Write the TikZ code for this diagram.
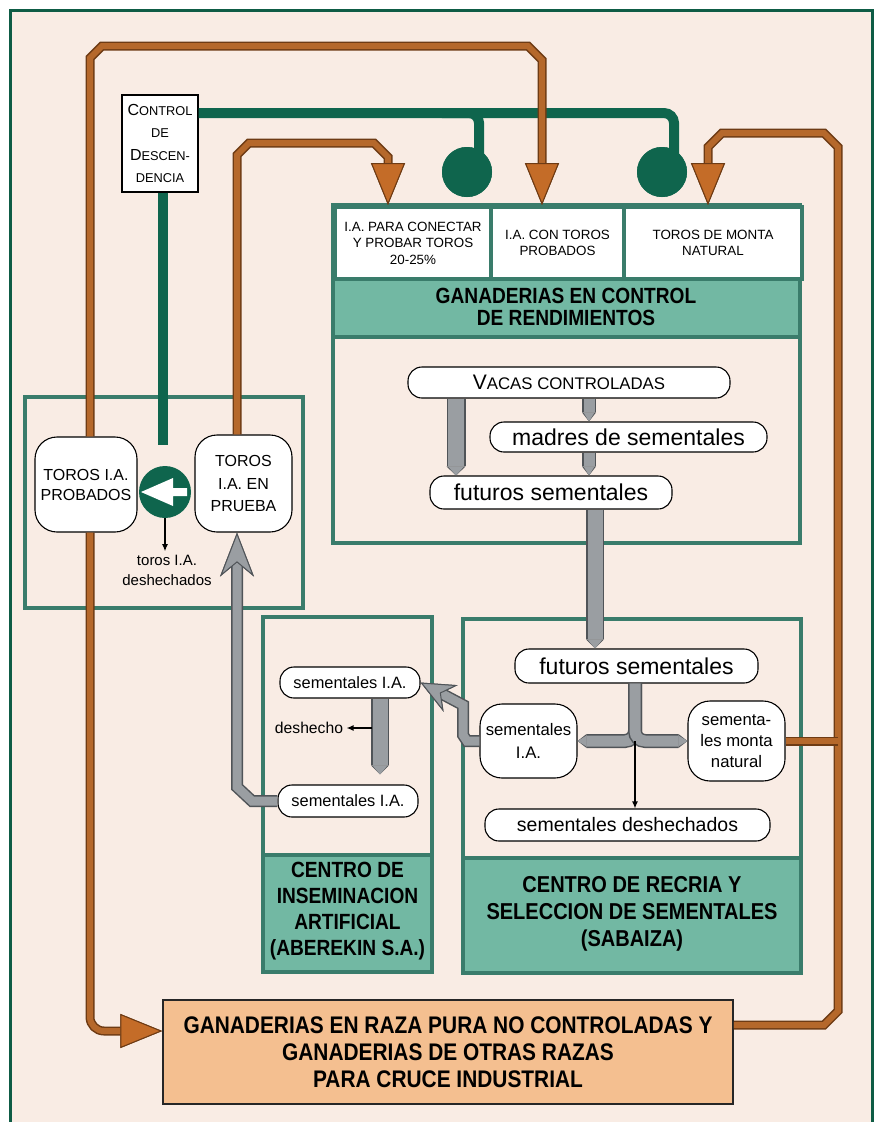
\documentclass[tikz,border=0pt]{standalone}
\usepackage{fontspec}
\setmainfont{Liberation Sans}
\newfontfamily\condsans[FakeStretch=0.87]{Liberation Sans}
\usetikzlibrary{arrows.meta}

\definecolor{bgpeach}{HTML}{F9ECE4}
\definecolor{bordergreen}{HTML}{0E5C45}
\definecolor{pipegreen}{HTML}{0F654D}
\definecolor{framegreen}{HTML}{3A7C6B}
\definecolor{bandteal}{HTML}{72B8A3}
\definecolor{brownd}{HTML}{6E3B14}
\definecolor{brownl}{HTML}{B5682B}
\definecolor{arrowbrown}{HTML}{C46C28}
\definecolor{greyd}{HTML}{505458}
\definecolor{greyl}{HTML}{9A9EA2}
\definecolor{razafill}{HTML}{F4BF90}

\newcommand{\smc}[1]{\scalebox{0.8}{#1}}

\begin{document}
\begin{tikzpicture}[x=1pt,y=-1pt,
    frame/.style={draw=framegreen,line width=4pt},
    band/.style={frame,fill=bandteal},
    cell/.style={frame,fill=white,anchor=north west,inner sep=0pt,align=center,
      font=\fontsize{13.4}{16.5}\selectfont},
    pill/.style={draw=black,line width=1.1pt,fill=white,rounded corners=14pt,inner sep=0pt},
    bull/.style={draw=black,line width=1.1pt,fill=white,rounded corners=22pt,inner sep=0pt,align=center},
    pipe/.style={draw=pipegreen,line width=10pt},
    valve/.style={circle,fill=pipegreen,inner sep=0pt},
    browntube/.style={draw=brownl,line width=6pt,preaction={draw=brownd,line width=9pt}},
    brownhead/.style={-{Triangle[width=34pt,length=42pt,line width=1pt,fill=arrowbrown,color=brownd]}},
    greytube/.style={draw=greyl,line width=#1,preaction={draw=greyd,line width=#1+3pt}},
    chisel/.style={-{Triangle[width=0pt 1,length=9pt,line width=0pt]}},
    greyhead/.style={-{Stealth[width=34pt,length=44pt,inset=14pt,line width=1pt,fill=greyl,color=greyd]}},
    greyheadsmall/.style={-{Stealth[width=30pt,length=34pt,inset=11pt,line width=1pt,fill=greyl,color=greyd]}},
    thinarrow/.style={draw=black,line width=1.2pt,-{Latex[length=7pt,width=6pt]}},
    boldhead/.style 2 args={align=center,font=\condsans\bfseries\fontsize{#1}{#2}\selectfont},
  ]
  % paper and border
  \fill[white] (0,0) rectangle (880,1122);
  \useasboundingbox (0,0) rectangle (880,1122);
  \draw[draw=bordergreen,line width=3pt,fill=bgpeach] (10,10) rectangle (872,1135);

  % frames
  \draw[frame] (25,397) rectangle (303,608);
  \draw[frame,fill=bgpeach] (333,205) rectangle (800,543);
  \draw[band] (333,277) rectangle (800,337);
  \draw[frame] (263,617) rectangle (432,972);
  \draw[band] (263,855) rectangle (432,972);
  \draw[frame] (463,619) rectangle (801,973);
  \draw[band] (463,858) rectangle (801,973);

  % columns and rows for the connectors
  \coordinate (pipeY) at (0,113);
  \coordinate (rowR) at (0,1025);
  \coordinate (rowL) at (0,1031);
  \coordinate (colL) at (90,0);
  \coordinate (colG) at (163,0);
  \coordinate (colP) at (237,0);
  \coordinate (colB) at (388,0);
  \coordinate (colA) at (542,0);
  \coordinate (colC) at (708,0);
  \coordinate (colR) at (838,0);
  \coordinate (colV) at (456,0);
  \coordinate (colM) at (589,0);
  \coordinate (colF) at (595,0);
  \coordinate (colT) at (635,0);
  \coordinate (colD) at (380,0);

  % ganaderias en control
  \node[cell,minimum width=156pt,minimum height=72pt] (cellA) at (333,205) {I.A. PARA CONECTAR\\Y PROBAR TOROS\\20-25\%};
  \node[cell,minimum width=133pt,minimum height=72pt] (cellB) at (489,205) {I.A. CON TOROS\\PROBADOS};
  \node[cell,minimum width=178pt,minimum height=72pt] (cellC) at (622,205) {TOROS DE MONTA\\NATURAL};
  \node[boldhead={22}{22}] (hdrG) at (566,307) {GANADERIAS EN CONTROL\\DE RENDIMIENTOS};
  \node[pill,minimum width=322pt,minimum height=31pt,font=\fontsize{21}{21}\selectfont] (vacas) at (569,382.5) {V\smc{ACAS CONTROLADAS}};
  \node[pill,minimum width=277pt,minimum height=30pt,font=\fontsize{23}{23}\selectfont] (madres) at (628.5,437) {madres de sementales};
  \node[pill,minimum width=242pt,minimum height=33pt,font=\fontsize{23}{23}\selectfont] (futA) at (551,492.5) {futuros sementales};

  % centro de recria
  \node[pill,minimum width=243pt,minimum height=34pt,font=\fontsize{23}{23}\selectfont] (futB) at (636.5,666) {futuros sementales};
  \node[bull,minimum width=97pt,minimum height=74pt,font=\fontsize{16.7}{23}\selectfont] (semR) at (528.5,741) {sementales\\I.A.};
  \node[bull,minimum width=97pt,minimum height=80pt,font=\fontsize{16.7}{21}\selectfont] (monta) at (736.5,741) {sementa-\\les monta\\natural};
  \node[pill,minimum width=285pt,minimum height=32pt,font=\fontsize{19.5}{19.5}\selectfont] (desh) at (627.5,825) {sementales deshechados};
  \node[boldhead={23}{27}] (recriaT) at (632,914) {CENTRO DE RECRIA Y\\SELECCION DE SEMENTALES\\(SABAIZA)};

  % centro de inseminacion
  \node[pill,minimum width=140pt,minimum height=31pt,font=\fontsize{16.4}{16.4}\selectfont] (semA) at (350,682.5) {sementales I.A.};
  \node[pill,minimum width=140pt,minimum height=32pt,font=\fontsize{16.4}{16.4}\selectfont] (semB) at (348,801) {sementales I.A.};
  \node[font=\fontsize{15.7}{16}\selectfont] (dh) at (309,728) {deshecho};
  \node[boldhead={22}{26}] (insemT) at (347.5,911) {CENTRO DE\\INSEMINACION\\ARTIFICIAL\\(ABEREKIN S.A.)};

  % toros
  \node[bull,minimum width=102pt,minimum height=95pt,font=\fontsize{16}{20}\selectfont] (prob) at (86,484.5) {TOROS I.A.\\PROBADOS};
  \node[bull,minimum width=97pt,minimum height=97pt,font=\fontsize{16}{22.5}\selectfont] (prueba) at (243.5,483.5) {TOROS\\I.A. EN\\PRUEBA};
  \node[font=\fontsize{15}{20}\selectfont,align=center] (tdesh) at (167,570) {toros I.A.\\deshechados};
  \node[draw=black,line width=1.2pt,fill=white,minimum width=76pt,minimum height=97pt,inner sep=0pt,
    align=center,font=\fontsize{16}{22.5}\selectfont] (ctrl) at (160,143.5) {C\smc{ONTROL}\\\smc{DE}\\D\smc{ESCEN-}\\\smc{DENCIA}};

  % raza pura
  \node[draw=black!85,line width=1.5pt,fill=razafill,minimum width=570pt,minimum height=104pt,
    boldhead={24}{27}] (raza) at (448,1052) {GANADERIAS EN RAZA PURA NO CONTROLADAS Y\\GANADERIAS DE OTRAS RAZAS\\PARA CRUCE INDUSTRIAL};

  % green pipes
  \node[valve,minimum size=50pt] (valveA) at (467,172) {};
  \node[valve,minimum size=50pt] (valveB) at (662,172) {};
  \draw[pipe,rounded corners=10pt] (ctrl.east |- pipeY) -| ([xshift=12pt]valveB.center);
  \draw[pipe,rounded corners=10pt] (valveA.west |- pipeY) -| ([xshift=12pt]valveA.center);
  \node[valve,minimum size=50pt] at (valveA) {};
  \node[valve,minimum size=50pt] at (valveB) {};
  \node[valve,minimum size=52pt] (sw) at (165,492) {};
  \draw[pipe,shorten >=21pt] (ctrl.south -| colG) -- (sw.north -| colG);
  \fill[white] (sw.center) ++(-24,0) -- ++(32,-14) -- ++(0,10) -- ++(14,0) -- ++(0,8) -- ++(-14,0) -- ++(0,10) -- cycle;
  \draw[thinarrow] (sw.south) -- (sw.south |- tdesh.north);

  % brown loops
  \draw[browntube,brownhead] (prob.north -| colL) -- (90,58) -- (102,46) -- (528,46) -- (542,60) -- (cellB.north -| colA);
  \draw[browntube,brownhead] (prueba.north -| colP) -- (237,155) -- (249,143) -- (374,143) -- (388,157) -- (cellA.north -| colB);
  \draw[browntube,brownhead] (raza.east |- rowR) -- (824,1025) -- (838,1011) -- (838,147) -- (824,133)
    -- (722,133) -- (708,147) -- (cellC.north -| colC);
  \draw[browntube] (monta.east) -- (monta.east -| colR);
  \draw[browntube,brownhead,rounded corners=14pt] (prob.south -| colL) |- (raza.west |- rowL);

  % grey flows
  \draw[greytube=16pt,chisel] (vacas.south -| colV) -- (futA.north -| colV);
  \draw[greytube=11pt,chisel] (vacas.south -| colM) -- (madres.north -| colM);
  \draw[greytube=11pt,chisel] (madres.south -| colM) -- (futA.north -| colM);
  \draw[greytube=15pt,chisel] (futA.south -| colF) -- (futB.north -| colF);
  \draw[greytube=11pt,chisel,rounded corners=10pt] (futB.south -| colT) |- (semR.east);
  \draw[greytube=11pt,chisel,rounded corners=10pt] (futB.south -| colT) |- (monta.west);
  \draw[thinarrow] (semR.east -| colT) -- (desh.north -| colT);
  \draw[greytube=9pt,greyheadsmall] (semR.west) -- (467,741) -- (463,735) -- (463,705) -- (semA.east);
  \draw[greytube=15pt,chisel,shorten >=10pt] (semA.south -| colD) -- (semB.north -| colD);
  \draw[thinarrow,shorten <=8pt] (dh.east -| colD) -- (dh.east);
  \draw[greytube=9pt,greyhead] (semB.west) -- (252,801) -- (237,787) -- (prueba.south -| colP);
\end{tikzpicture}
\end{document}
